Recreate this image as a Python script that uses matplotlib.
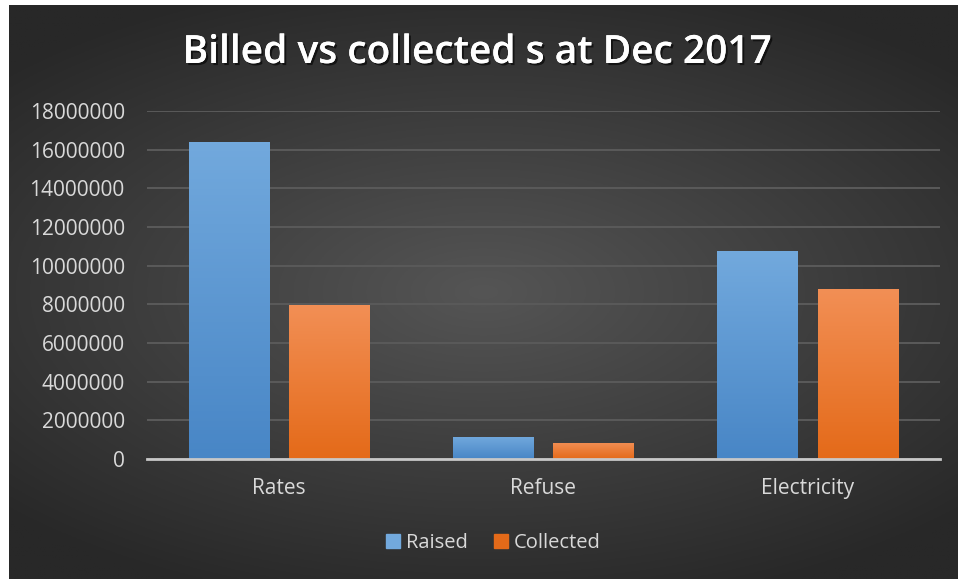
import numpy as np
import matplotlib.pyplot as plt
import matplotlib.patheffects as pe
from matplotlib.patches import Patch

categories = ['Rates', 'Refuse', 'Electricity']
raised = [16400000, 1140000, 10750000]
collected = [7950000, 830000, 8780000]
yticks = [0, 2000000, 4000000, 6000000, 8000000, 10000000,
          12000000, 14000000, 16000000, 18000000]

blue_top, blue_bot = '#72a9dd', '#4886c6'
orange_top, orange_bot = '#f28f55', '#e46a19'

plt.rcParams['font.family'] = ['Open Sans', 'DejaVu Sans']

fig = plt.figure(figsize=(9.58, 5.79), dpi=100)
fig.patch.set_facecolor('white')

# dark radial gradient background (leaves thin white border top/left)
bg = fig.add_axes([9 / 958, 0, 1 - 9 / 958, 1 - 5 / 579])
bg.set_axis_off()
yy, xx = np.mgrid[-1:1:300j, -1:1:500j]
r = np.sqrt((xx * 0.9) ** 2 + (yy * 1.1) ** 2)
inner = np.array([0x55, 0x55, 0x55]) / 255
outer = np.array([0x28, 0x28, 0x28]) / 255
t = np.clip(r / 1.25, 0, 1)[..., None]
bg.imshow(inner * (1 - t) + outer * t, aspect='auto', extent=[0, 1, 0, 1])
bg.set_xlim(0, 1)
bg.set_ylim(0, 1)

ax = fig.add_axes([147 / 958, 1 - 459 / 579, (940 - 147) / 958, (459 - 111) / 579])
ax.set_facecolor('none')

x = np.arange(len(categories))
w = 0.306
off = 0.19


def gradient_bars(xs, vals, top, bot):
    bars = ax.bar(xs, vals, w, color=bot, zorder=3)
    grad = np.linspace(0, 1, 100)[:, None]
    c_top = np.array(plt.matplotlib.colors.to_rgb(top))
    c_bot = np.array(plt.matplotlib.colors.to_rgb(bot))
    img = c_bot * (1 - grad[..., None]) + c_top * grad[..., None]
    for b in bars:
        bx, by = b.get_x(), b.get_y()
        im = ax.imshow(img, extent=[bx, bx + b.get_width(), by, by + b.get_height()],
                       origin='lower', aspect='auto', zorder=4)
        im.set_clip_path(b)
    return bars


gradient_bars(x - off, raised, blue_top, blue_bot)
gradient_bars(x + off, collected, orange_top, orange_bot)

ax.set_xlim(-0.5, 2.5)
ax.set_ylim(0, 18000000)
ax.set_yticks(yticks)
ax.set_yticklabels([str(v) for v in yticks])
ax.set_xticks(x)
ax.set_xticklabels(categories)
ax.yaxis.grid(True, color='#5a5a5a', linewidth=1.4, zorder=0)
ax.set_axisbelow(True)
for s in ['top', 'right', 'left']:
    ax.spines[s].set_visible(False)
ax.spines['bottom'].set_color('#c8c8c8')
ax.spines['bottom'].set_linewidth(2)
ax.spines['bottom'].set_zorder(5)
ax.tick_params(axis='both', length=0, colors='#d9d9d9', labelsize=15)
ax.tick_params(axis='y', pad=16)
ax.tick_params(axis='x', pad=14)

fig.text(0.498, 1 - 53 / 579, 'Billed vs collected s at Dec 2017',
         ha='center', va='center', fontsize=28, fontweight='semibold', color='white',
         path_effects=[pe.withSimplePatchShadow(offset=(1.5, -1.5), shadow_rgbFace='black', alpha=0.6),
                       pe.Normal()])

handles = [Patch(color=blue_top, label='Raised'), Patch(color=orange_bot, label='Collected')]
leg = fig.legend(handles=handles, loc='center', bbox_to_anchor=(0.515, 1 - 543 / 579),
                 ncol=2, frameon=False, fontsize=14.5, handlelength=0.7, handleheight=0.7,
                 handletextpad=0.3, columnspacing=1.3)
for txt in leg.get_texts():
    txt.set_color('#d9d9d9')

fig.savefig('out.png', dpi=100)
